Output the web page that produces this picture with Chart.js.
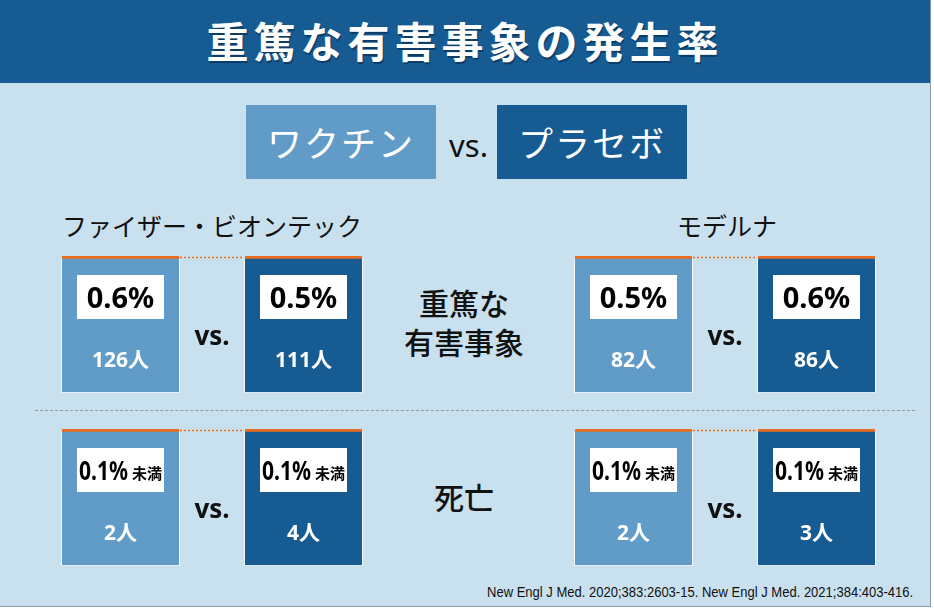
<!DOCTYPE html>
<html lang="ja">
<head>
<meta charset="utf-8">
<script src="https://cdn.jsdelivr.net/npm/chart.js@4"></script>
<style>
  html, body { margin: 0; padding: 0; background: #fff; }
  #page {
    position: relative; width: 930px; height: 606px;
    background: #c9e0ee; border-right: 1px solid #8a9aa6; border-bottom: 1px solid #8a9aa6;
    overflow: hidden; font-family: "Noto Sans CJK JP", "Noto Sans", sans-serif; color: #111;
  }
  .abs { position: absolute; }
  #titlebar { left: 0; top: 0; width: 930px; height: 83px; background: #165b92; }
  #title {
    left: 0; top: 15px; width: 930px; text-align: center; color: #fff;
    font-size: 42px; font-weight: 700; letter-spacing: 5px; line-height: 50px;
    text-shadow: 1px 2px 0 #0c3d66;
  }
  .legbox { top: 105px; width: 190px; height: 74px; color: #fff; font-size: 35px;
    line-height: 74px; text-align: center; letter-spacing: 2px; }
  #legVs { left: 440px; top: 120px; width: 57px; text-align: center; font-family: "Noto Sans", sans-serif;
    font-size: 31px; line-height: 50px; }
  .company { top: 206px; font-size: 25px; line-height: 38px; text-align: center; }
  .mid { left: 393px; width: 142px; text-align: center; font-size: 30px; font-weight: 500; line-height: 39px; }
  #sep { left: 35px; top: 410px; width: 880px; border-top: 1.5px dashed #8c9aa8; }
  #foot { right: 17px; top: 583px; font-family: "Liberation Sans", sans-serif; white-space: nowrap;
    font-size: 15px; color: #111; transform-origin: right center; }
  .chartbox { position: absolute; width: 366px; height: 137px; }
</style>
</head>
<body>
<div id="page">
  <div id="titlebar" class="abs"></div>
  <div id="title" class="abs"></div>
  <div id="legA" class="abs legbox" style="left:246px;background:#619cc8;"></div>
  <div id="legVs" class="abs">vs.</div>
  <div id="legB" class="abs legbox" style="left:497px;background:#165b92;"></div>
  <div id="co0" class="abs company" style="left:42px;width:340px;"></div>
  <div id="co1" class="abs company" style="left:557px;width:340px;"></div>
  <div id="mid0" class="abs mid" style="top:283px;"></div>
  <div id="mid1" class="abs mid" style="top:477px;"></div>
  <div id="sep" class="abs"></div>
  <div id="foot" class="abs">New Engl J Med. 2020;383:2603-15. New Engl J Med. 2021;384:403-416.</div>

  <div class="chartbox" style="left:29px;top:256px;"><canvas id="c00"></canvas></div>
  <div class="chartbox" style="left:542px;top:256px;"><canvas id="c01"></canvas></div>
  <div class="chartbox" style="left:29px;top:429px;"><canvas id="c10"></canvas></div>
  <div class="chartbox" style="left:542px;top:429px;"><canvas id="c11"></canvas></div>
</div>

<script>
// data
const title = '重篤な有害事象の発生率';
const groups = ['ワクチン', 'プラセボ'];
const companies = ['ファイザー・ビオンテック', 'モデルナ'];
const outcomes = ['重篤な\n有害事象', '死亡'];

// each bar = whole group (100%)
const groupShare = [100, 100];

const pfizerSaeRate = ['0.6%', '0.5%'];
const pfizerSaeCount = [126, 111];
const modernaSaeRate = ['0.5%', '0.6%'];
const modernaSaeCount = [82, 86];
const pfizerDeathRate = ['0.1%未満', '0.1%未満'];
const pfizerDeathCount = [2, 4];
const modernaDeathRate = ['0.1%未満', '0.1%未満'];
const modernaDeathCount = [2, 3];

const lightBlue = '#619cc8';
const darkBlue = '#165b92';
const orange = '#ec6d1f';

document.getElementById('title').textContent = title;
document.getElementById('legA').textContent = groups[0];
document.getElementById('legB').textContent = groups[1];
document.getElementById('co0').textContent = companies[0];
document.getElementById('co1').textContent = companies[1];
document.getElementById('mid0').innerHTML = outcomes[0].replace('\n', '<br>');
document.getElementById('mid1').textContent = outcomes[1];

// squeeze the footnote like the condensed original
const foot = document.getElementById('foot');
foot.style.transform = 'scaleX(' + (426 / foot.offsetWidth) + ')';

const numFont = '"Noto Sans", "Noto Sans CJK JP", sans-serif';

const labelPlugin = {
  id: 'labels',
  afterDatasetsDraw(chart, args, opts) {
    const ctx = chart.ctx;
    const bars = chart.getDatasetMeta(0).data;
    ctx.save();
    // thin white outline on the sides / bottom
    ctx.strokeStyle = 'rgba(255,255,255,0.85)';
    ctx.lineWidth = 1;
    bars.forEach(bar => {
      const l = Math.round(bar.x - bar.width / 2) - 0.5;
      const r = Math.round(bar.x + bar.width / 2) + 0.5;
      const b = Math.round(bar.base) - 0.5;
      ctx.beginPath();
      ctx.moveTo(l, bar.y + 3);
      ctx.lineTo(l, b);
      ctx.lineTo(r, b);
      ctx.lineTo(r, bar.y + 3);
      ctx.stroke();
    });

    // dotted connector between the two tops
    const b0 = bars[0], b1 = bars[1];
    ctx.strokeStyle = orange;
    ctx.lineWidth = 1.5;
    ctx.setLineDash([2, 2]);
    ctx.beginPath();
    ctx.moveTo(b0.x + b0.width / 2 + 1, b0.y + 1.5);
    ctx.lineTo(b1.x - b1.width / 2 - 1, b1.y + 1.5);
    ctx.stroke();
    ctx.setLineDash([]);

    // vs.
    ctx.fillStyle = '#111';
    ctx.font = 'bold 26px ' + numFont;
    ctx.textAlign = 'center';
    ctx.textBaseline = 'middle';
    ctx.fillText('vs.', (b0.x + b1.x) / 2, b0.y + 82);

    bars.forEach((bar, i) => {
      const rate = opts.rates[i];
      const count = opts.counts[i];
      // white box
      ctx.fillStyle = '#fff';
      ctx.fillRect(bar.x - 43.5, bar.y + 19, 87, 44);
      ctx.fillStyle = '#000';
      ctx.textBaseline = 'alphabetic';
      if (rate.endsWith('未満')) {
        const main = rate.replace('未満', '');
        const sq = 0.78;
        ctx.font = 'bold 27px ' + numFont;
        const w1 = ctx.measureText(main).width * sq;
        ctx.font = 'bold 15px "Noto Sans CJK JP", sans-serif';
        const w2 = ctx.measureText('未満').width;
        const sx = bar.x - (w1 + 4 + w2) / 2;
        ctx.textAlign = 'left';
        ctx.save();
        ctx.translate(sx, bar.y + 51);
        ctx.scale(sq, 1);
        ctx.font = 'bold 27px ' + numFont;
        ctx.fillText(main, 0, 0);
        ctx.restore();
        ctx.font = 'bold 15px "Noto Sans CJK JP", sans-serif';
        ctx.fillText('未満', sx + w1 + 4, bar.y + 50);
      } else {
        ctx.textAlign = 'center';
        ctx.font = 'bold 29px ' + numFont;
        ctx.fillText(rate, bar.x, bar.y + 52);
      }
      // count of people
      ctx.fillStyle = '#fff';
      ctx.textAlign = 'center';
      ctx.textBaseline = 'middle';
      ctx.font = 'bold 21px ' + numFont;
      ctx.fillText(count + '人', bar.x, bar.y + 105);
    });
    ctx.restore();
  }
};

function makeChart(id, rates, counts) {
  new Chart(document.getElementById(id), {
    type: 'bar',
    data: {
      labels: groups,
      datasets: [{
        data: groupShare,
        backgroundColor: [lightBlue, darkBlue],
        borderColor: orange,
        borderWidth: { top: 3, left: 0, right: 0, bottom: 0 },
        borderSkipped: false,
        barThickness: 117
      }]
    },
    options: {
      responsive: true,
      maintainAspectRatio: false,
      animation: false,
      layout: { padding: 0 },
      plugins: {
        legend: { display: false },
        tooltip: { enabled: false },
        labels: { rates: rates, counts: counts }
      },
      scales: {
        x: { display: false },
        y: { display: false, min: 0, max: 100 }
      }
    },
    plugins: [labelPlugin]
  });
}

makeChart('c00', pfizerSaeRate, pfizerSaeCount);
makeChart('c01', modernaSaeRate, modernaSaeCount);
makeChart('c10', pfizerDeathRate, pfizerDeathCount);
makeChart('c11', modernaDeathRate, modernaDeathCount);
</script>
</body>
</html>
